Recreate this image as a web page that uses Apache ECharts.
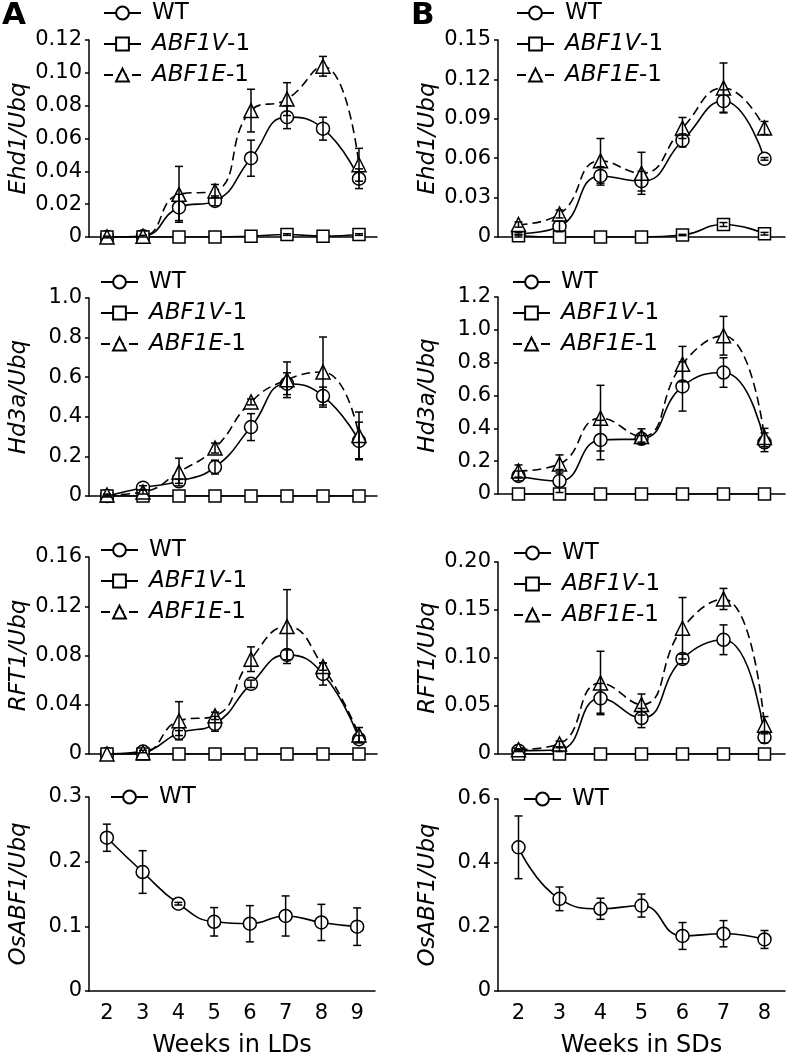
<!DOCTYPE html>
<html><head><meta charset="utf-8">
<script src="https://cdn.jsdelivr.net/npm/echarts@6/dist/echarts.min.js"></script>
<style>html,body{margin:0;padding:0;background:#fff}#c{width:789px;height:1059px}</style>
</head><body><div id="c"></div>
<script>
// ---------- categories ----------
const ldWeeks = ['2','3','4','5','6','7','8','9'];
const sdWeeks = ['2','3','4','5','6','7','8'];

// ---------- y tick labels ----------
const ldEhd1Ticks = ['0','0.02','0.04','0.06','0.08','0.10','0.12'];
const sdEhd1Ticks = ['0','0.03','0.06','0.09','0.12','0.15'];
const ldHd3aTicks = ['0','0.2','0.4','0.6','0.8','1.0'];
const sdHd3aTicks = ['0','0.2','0.4','0.6','0.8','1.0','1.2'];
const ldRft1Ticks = ['0','0.04','0.08','0.12','0.16'];
const sdRft1Ticks = ['0','0.05','0.10','0.15','0.20'];
const ldAbfTicks  = ['0','0.1','0.2','0.3'];
const sdAbfTicks  = ['0','0.2','0.4','0.6'];

// ---------- Ehd1 / LDs ----------
const ldEhd1WT    = [0.0, 0.0005, 0.018, 0.022, 0.048, 0.073, 0.066, 0.0355];
const ldEhd1WTErr = [0.0005, 0.0005, 0.008, 0.003, 0.011, 0.007, 0.007, 0.006];
const ldEhd1V     = [0, 0, 0, 0, 0.0005, 0.0015, 0.0005, 0.0015];
const ldEhd1VErr  = [0, 0, 0, 0, 0, 0.0005, 0, 0.0005];
const ldEhd1E     = [0.0, 0.0005, 0.026, 0.028, 0.077, 0.084, 0.104, 0.044];
const ldEhd1EErr  = [0, 0, 0.017, 0.004, 0.013, 0.010, 0.006, 0.010];
// ---------- Ehd1 / SDs ----------
const sdEhd1WT    = [0.0025, 0.008, 0.0465, 0.0425, 0.0735, 0.1035, 0.0595];
const sdEhd1WTErr = [0.001, 0.004, 0.007, 0.0075, 0.005, 0.0085, 0.001];
const sdEhd1V     = [0.001, 0, 0, 0, 0.0015, 0.0095, 0.0025];
const sdEhd1VErr  = [0.001, 0, 0, 0, 0.0005, 0.0015, 0.001];
const sdEhd1E     = [0.0095, 0.0175, 0.058, 0.0485, 0.083, 0.1135, 0.083];
const sdEhd1EErr  = [0.002, 0.003, 0.017, 0.016, 0.008, 0.019, 0.005];
// ---------- Hd3a / LDs ----------
const ldHd3aWT    = [0.0, 0.042, 0.074, 0.146, 0.348, 0.567, 0.505, 0.278];
const ldHd3aWTErr = [0.005, 0.01, 0.01, 0.035, 0.068, 0.055, 0.045, 0.095];
const ldHd3aV     = [0, 0, 0, 0, 0, 0, 0, 0];
const ldHd3aE     = [0.005, 0.02, 0.121, 0.242, 0.475, 0.587, 0.626, 0.306];
const ldHd3aEErr  = [0.005, 0.01, 0.07, 0.025, 0.015, 0.09, 0.177, 0.118];
// ---------- Hd3a / SDs ----------
const sdHd3aWT    = [0.11, 0.079, 0.329, 0.336, 0.655, 0.74, 0.315];
const sdHd3aWTErr = [0.03, 0.07, 0.12, 0.02, 0.15, 0.09, 0.057];
const sdHd3aV     = [0, 0, 0, 0, 0, 0, 0];
const sdHd3aE     = [0.14, 0.183, 0.462, 0.35, 0.791, 0.964, 0.344];
const sdHd3aEErr  = [0.037, 0.055, 0.2, 0.047, 0.108, 0.118, 0.056];
// ---------- RFT1 / LDs ----------
const ldRft1WT    = [0, 0.002, 0.017, 0.0245, 0.057, 0.0805, 0.065, 0.012];
const ldRft1WTErr = [0, 0.001, 0.002, 0.006, 0.003, 0.004, 0.009, 0.003];
const ldRft1V     = [0, 0, 0, 0, 0, 0, 0, 0];
const ldRft1E     = [0, 0.001, 0.027, 0.031, 0.077, 0.1035, 0.071, 0.0155];
const ldRft1EErr  = [0, 0, 0.0155, 0.003, 0.010, 0.030, 0.003, 0.006];
// ---------- RFT1 / SDs ----------
const sdRft1WT    = [0.0035, 0.0045, 0.058, 0.0375, 0.099, 0.119, 0.0175];
const sdRft1WTErr = [0.001, 0.002, 0.0155, 0.01, 0.005, 0.0155, 0.006];
const sdRft1V     = [0, 0, 0, 0, 0, 0, 0];
const sdRft1E     = [0.0045, 0.0105, 0.074, 0.0515, 0.131, 0.1615, 0.030];
const sdRft1EErr  = [0.001, 0.003, 0.033, 0.011, 0.032, 0.011, 0.009];
// ---------- OsABF1 ----------
const ldAbfWT     = [0.237, 0.184, 0.135, 0.107, 0.104, 0.116, 0.106, 0.0995];
const ldAbfWTErr  = [0.021, 0.033, 0.002, 0.022, 0.028, 0.031, 0.028, 0.029];
const sdAbfWT     = [0.449, 0.288, 0.257, 0.267, 0.172, 0.179, 0.161];
const sdAbfWTErr  = [0.098, 0.037, 0.033, 0.036, 0.042, 0.041, 0.028];

const FONT = 'DejaVu Sans';
const BLACK = '#000';

const panels = [
  {weeks: ldWeeks, ticks: ldEhd1Ticks, yName: 'Ehd1/Ubq', wt: ldEhd1WT, wtErr: ldEhd1WTErr, v: ldEhd1V, vErr: ldEhd1VErr, e: ldEhd1E, eErr: ldEhd1EErr},
  {weeks: sdWeeks, ticks: sdEhd1Ticks, yName: 'Ehd1/Ubq', wt: sdEhd1WT, wtErr: sdEhd1WTErr, v: sdEhd1V, vErr: sdEhd1VErr, e: sdEhd1E, eErr: sdEhd1EErr},
  {weeks: ldWeeks, ticks: ldHd3aTicks, yName: 'Hd3a/Ubq', wt: ldHd3aWT, wtErr: ldHd3aWTErr, v: ldHd3aV, e: ldHd3aE, eErr: ldHd3aEErr},
  {weeks: sdWeeks, ticks: sdHd3aTicks, yName: 'Hd3a/Ubq', wt: sdHd3aWT, wtErr: sdHd3aWTErr, v: sdHd3aV, e: sdHd3aE, eErr: sdHd3aEErr},
  {weeks: ldWeeks, ticks: ldRft1Ticks, yName: 'RFT1/Ubq', wt: ldRft1WT, wtErr: ldRft1WTErr, v: ldRft1V, e: ldRft1E, eErr: ldRft1EErr},
  {weeks: sdWeeks, ticks: sdRft1Ticks, yName: 'RFT1/Ubq', wt: sdRft1WT, wtErr: sdRft1WTErr, v: sdRft1V, e: sdRft1E, eErr: sdRft1EErr},
  {weeks: ldWeeks, ticks: ldAbfTicks, yName: 'OsABF1/Ubq', wt: ldAbfWT, wtErr: ldAbfWTErr, xName: 'Weeks in LDs'},
  {weeks: sdWeeks, ticks: sdAbfTicks, yName: 'OsABF1/Ubq', wt: sdAbfWT, wtErr: sdAbfWTErr, xName: 'Weeks in SDs'}
];

// layout (pixels)
const layout = [
  {left: 89,  top: 40,  width: 288, height: 197, lgLeft: 103, lgTop: 0},
  {left: 498, top: 40,  width: 287, height: 197, lgLeft: 516, lgTop: 0},
  {left: 89,  top: 298, width: 288, height: 198, lgLeft: 100, lgTop: 269},
  {left: 498, top: 297, width: 287, height: 197, lgLeft: 512, lgTop: 269},
  {left: 89,  top: 557, width: 288, height: 197, lgLeft: 100, lgTop: 537},
  {left: 498, top: 562, width: 287, height: 192, lgLeft: 513, lgTop: 540},
  {left: 89,  top: 797, width: 286, height: 196, lgLeft: 110, lgTop: 784},
  {left: 498, top: 799, width: 287, height: 195, lgLeft: 523, lgTop: 786}
];

const grid = [], xAxis = [], yAxis = [], series = [], legend = [];

function errRender(params, api) {
  const x = api.value(0);
  const hi = api.coord([x, api.value(2)]);
  const lo = api.coord([x, api.value(1)]);
  const w = 4;
  const st = {stroke: BLACK, lineWidth: 1.5};
  return {type: 'group', children: [
    {type: 'line', shape: {x1: hi[0], y1: hi[1], x2: lo[0], y2: lo[1]}, style: st},
    {type: 'line', shape: {x1: hi[0]-w, y1: hi[1], x2: hi[0]+w, y2: hi[1]}, style: st},
    {type: 'line', shape: {x1: lo[0]-w, y1: lo[1], x2: lo[0]+w, y2: lo[1]}, style: st}
  ]};
}

function addErr(i, vals, errs) {
  if (!errs) return;
  const d = [];
  vals.forEach((v, j) => { if (errs[j] > 0) d.push([j, v - errs[j], v + errs[j]]); });
  series.push({type: 'custom', xAxisIndex: i, yAxisIndex: i, renderItem: errRender,
    data: d, encode: {x: 0, y: [1, 2]}, z: 6, silent: true});
}

const markerStyle = {color: '#fff', borderColor: BLACK, borderWidth: 1.5};

panels.forEach((p, i) => {
  const L = layout[i];
  const isBottom = !!p.xName;
  grid.push({left: L.left, top: L.top, width: L.width, height: L.height, containLabel: false});
  xAxis.push({
    type: 'category', gridIndex: i, data: p.weeks, boundaryGap: true,
    axisLine: {lineStyle: {color: BLACK, width: 1.5}},
    axisTick: {inside: true, length: 5, alignWithLabel: false, interval: 0, lineStyle: {color: BLACK, width: 1.5}},
    axisLabel: {show: isBottom, color: BLACK, fontFamily: FONT, fontSize: 21, margin: 12, interval: 0},
    name: p.xName || '', nameLocation: 'middle', nameGap: 43,
    nameTextStyle: {color: BLACK, fontFamily: FONT, fontSize: 24}
  });
  const ticks = p.ticks;
  const tv = ticks.map(parseFloat);
  yAxis.push({
    type: 'value', gridIndex: i, min: 0, max: tv[tv.length - 1], interval: tv[1],
    axisLine: {show: true, lineStyle: {color: BLACK, width: 1.5}},
    axisTick: {show: true, inside: false, length: 4, lineStyle: {color: BLACK, width: 1.5}},
    splitLine: {show: false},
    axisLabel: {color: BLACK, fontFamily: FONT, fontSize: 21, margin: 7,
      formatter: (val) => { const k = tv.findIndex(t => Math.abs(t - val) < 1e-9); return k >= 0 ? ticks[k] : ''; }},
    name: p.yName, nameLocation: 'middle', nameGap: 58, nameRotate: 90,
    nameTextStyle: {color: BLACK, fontFamily: FONT, fontSize: 23, fontStyle: 'italic'}
  });

  series.push({name: 'WT', type: 'line', xAxisIndex: i, yAxisIndex: i, data: p.wt, smooth: true,
    symbol: 'circle', symbolSize: 13, showAllSymbol: true,
    lineStyle: {color: BLACK, width: 1.6}, itemStyle: markerStyle, z: 3});
  if (p.v) {
    series.push({name: 'ABF1V-1', type: 'line', xAxisIndex: i, yAxisIndex: i, data: p.v, smooth: true,
      symbol: 'rect', symbolSize: 12, showAllSymbol: true,
      lineStyle: {color: BLACK, width: 1.6}, itemStyle: markerStyle, z: 3});
  }
  if (p.e) {
    series.push({name: 'ABF1E-1', type: 'line', xAxisIndex: i, yAxisIndex: i, data: p.e, smooth: true,
      symbol: 'triangle', symbolSize: 14, showAllSymbol: true,
      lineStyle: {color: BLACK, width: 1.6, type: [9, 5]}, itemStyle: markerStyle, z: 4});
  }
  addErr(i, p.wt, p.wtErr);
  if (p.v) addErr(i, p.v, p.vErr);
  if (p.e) addErr(i, p.e, p.eErr);

  legend.push({
    orient: 'vertical', left: L.lgLeft, top: L.lgTop, padding: 0, itemGap: 5,
    itemWidth: 37, itemHeight: 16, selectedMode: false,
    data: p.e ? ['WT', 'ABF1V-1', 'ABF1E-1'] : ['WT'],
    formatter: (n) => n === 'WT' ? n : '{i|' + n.replace('-1', '') + '}-1',
    textStyle: {color: BLACK, fontFamily: FONT, fontSize: 23, lineHeight: 26, padding: [0, 0, 0, 6],
      rich: {i: {fontStyle: 'italic', fontFamily: FONT, fontSize: 23, color: BLACK, lineHeight: 26}}}
  });
});

const chart = echarts.init(document.getElementById('c'), null, {renderer: 'canvas'});
chart.setOption({
  animation: false,
  backgroundColor: '#fff',
  grid, xAxis, yAxis, series, legend,
  graphic: [
    {type: 'text', left: 2, top: 0, style: {text: 'A', font: 'bold 31px "DejaVu Sans"', fill: BLACK}},
    {type: 'text', left: 411, top: 0, style: {text: 'B', font: 'bold 31px "DejaVu Sans"', fill: BLACK}}
  ]
});
</script></body></html>
